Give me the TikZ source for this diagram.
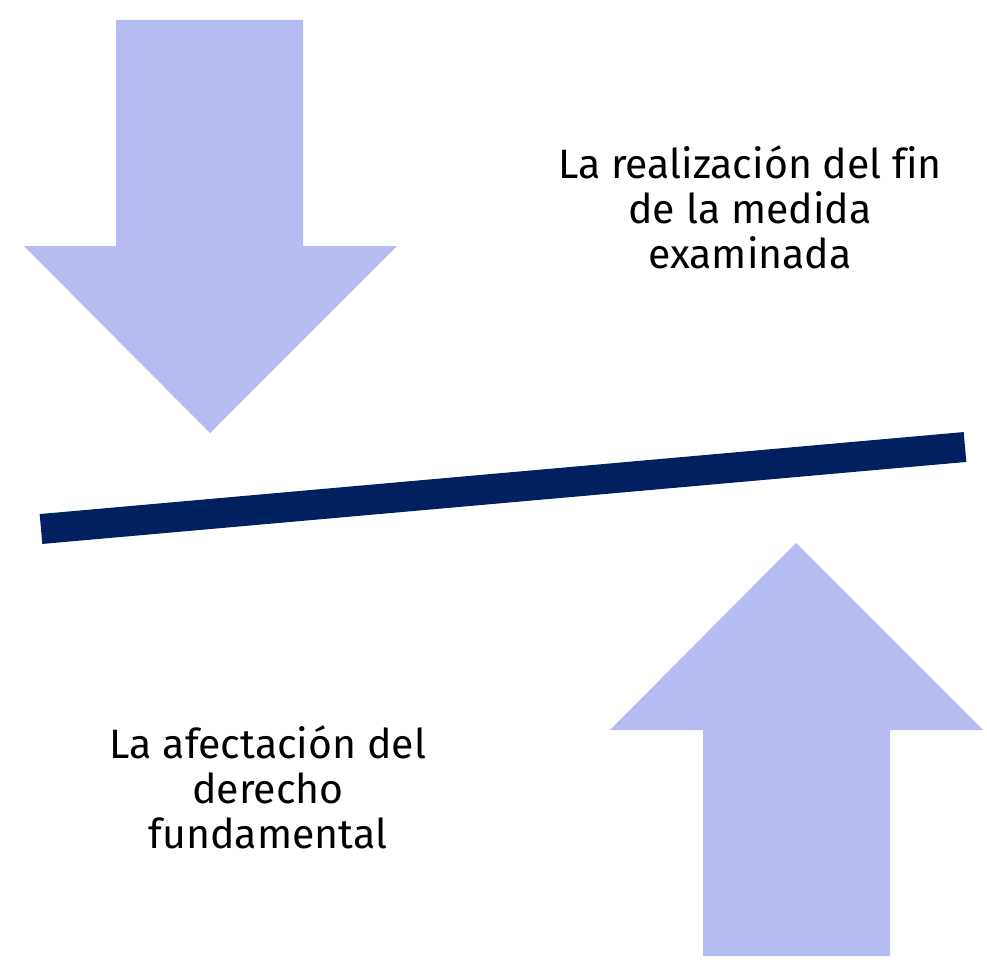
\documentclass[tikz,border=0pt]{standalone}
\usepackage{fontspec}
\setmainfont[Ligatures=NoCommon]{Fira Sans}
\usepackage{tikz}
\usetikzlibrary{positioning}
\definecolor{lavender}{HTML}{B6BCF2}
\definecolor{navy}{HTML}{002060}

\begin{document}
\begin{tikzpicture}[
  x=1pt, y=-1pt,
  bigarrow/.style={fill=lavender, draw=none},
  beam/.style={draw=navy, line width=30pt},
  label/.style={align=center, font=\fontsize{41}{45}\selectfont, inner sep=0pt}
]
\useasboundingbox (0,0) rectangle (987,966);

% arrows
\fill[bigarrow] (116,20) -- (303,20) -- (303,246) -- (397,246) -- (210,433)
  -- (24,246) -- (116,246) -- cycle;
\fill[bigarrow] (703,956) -- (890,956) -- (890,730) -- (983,730) -- (796,543)
  -- (610,730) -- (703,730) -- cycle;

% beam
\coordinate (bl) at (41,529);
\coordinate (br) at (965,447);
\draw[beam] (bl) -- (br);

\node[label] (fin) at (750,207) {La realización del fin\\de la medida\\examinada};
\node[label] (der) at (268,787) {La afectación del\\derecho\\fundamental};
\end{tikzpicture}
\end{document}
